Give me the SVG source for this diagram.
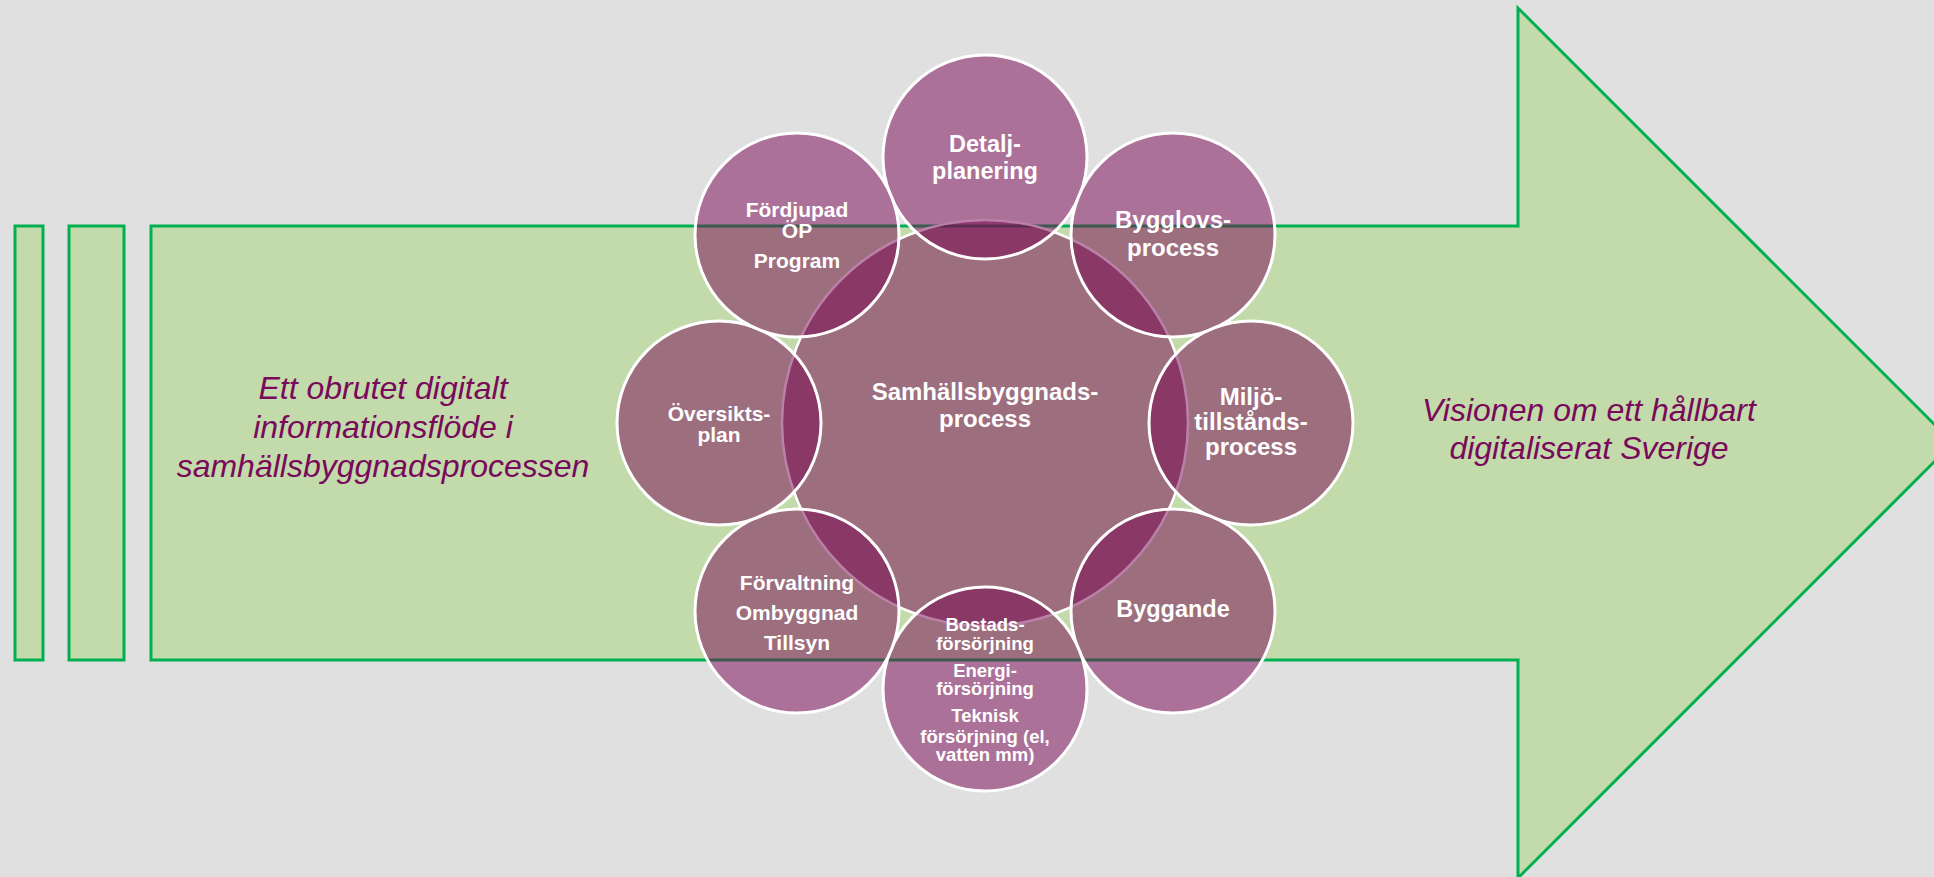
<svg xmlns="http://www.w3.org/2000/svg" width="1934" height="877" viewBox="0 0 1934 877">
<style>
.bg{fill:#E0E0E0}
.green{fill:#C3DAAA;stroke:#00B050;stroke-width:3}
.c{fill:#78024F;fill-opacity:0.5;stroke:#FFFFFF;stroke-width:3}
.big{fill:#78024F;fill-opacity:0.5;stroke:#FFFFFF;stroke-width:2.5}
.t{font-family:"Liberation Sans",Arial,sans-serif;font-weight:bold;fill:#FFFFFF;text-anchor:middle}
.side{font-family:"Liberation Sans",Arial,sans-serif;font-style:italic;fill:#790A5B;text-anchor:middle;font-size:32px}
</style>
<rect class="bg" x="0" y="0" width="1934" height="877"/>
<g id="arrow">
<rect class="green" x="15" y="226" width="28" height="434"/>
<rect class="green" x="69" y="226" width="55" height="434"/>
<polygon class="green" points="151,226 1518,226 1518,8 1953,443 1518,878 1518,660 151,660"/>
<text class="side"><tspan x="383" y="399">Ett obrutet digitalt</tspan><tspan x="383" y="438">informationsflöde i</tspan><tspan x="383" y="477">samhällsbyggnadsprocessen</tspan></text>
<text class="side"><tspan x="1589" y="421">Visionen om ett hållbart</tspan><tspan x="1589" y="459">digitaliserat Sverige</tspan></text>
</g>
<g id="connectors"></g>
<g id="center">
<circle class="big" cx="985" cy="423" r="203"/>
<text class="t" font-size="24"><tspan x="985" y="400">Samhällsbyggnads-</tspan><tspan x="985" y="427">process</tspan></text>
</g>
<g id="detalj">
<circle class="c" cx="985" cy="157" r="102"/>
<text class="t" font-size="23.5"><tspan x="985" y="152">Detalj-</tspan><tspan x="985" y="179">planering</tspan></text>
</g>
<g id="bygglov">
<circle class="c" cx="1173" cy="235" r="102"/>
<text class="t" font-size="24"><tspan x="1173" y="228">Bygglovs-</tspan><tspan x="1173" y="256">process</tspan></text>
</g>
<g id="miljo">
<circle class="c" cx="1251" cy="423" r="102"/>
<text class="t" font-size="24"><tspan x="1251" y="405">Miljö-</tspan><tspan x="1251" y="430">tillstånds-</tspan><tspan x="1251" y="455">process</tspan></text>
</g>
<g id="byggande">
<circle class="c" cx="1173" cy="611" r="102"/>
<text class="t" font-size="23.5" x="1173" y="617">Byggande</text>
</g>
<g id="forsorjning">
<circle class="c" cx="985" cy="689" r="102"/>
<text class="t" font-size="18.5"><tspan x="985" y="631">Bostads-</tspan><tspan x="985" y="649.5">försörjning</tspan><tspan x="985" y="677">Energi-</tspan><tspan x="985" y="695">försörjning</tspan><tspan x="985" y="722">Teknisk</tspan><tspan x="985" y="743">försörjning (el,</tspan><tspan x="985" y="761">vatten mm)</tspan></text>
</g>
<g id="forvaltning">
<circle class="c" cx="797" cy="611" r="102"/>
<text class="t" font-size="21"><tspan x="797" y="590">Förvaltning</tspan><tspan x="797" y="620">Ombyggnad</tspan><tspan x="797" y="650">Tillsyn</tspan></text>
</g>
<g id="oversikt">
<circle class="c" cx="719" cy="423" r="102"/>
<text class="t" font-size="21"><tspan x="719" y="421">Översikts-</tspan><tspan x="719" y="442">plan</tspan></text>
</g>
<g id="fordjupad">
<circle class="c" cx="797" cy="235" r="102"/>
<text class="t" font-size="21"><tspan x="797" y="217">Fördjupad</tspan><tspan x="797" y="238">ÖP</tspan><tspan x="797" y="268">Program</tspan></text>
</g>
</svg>
